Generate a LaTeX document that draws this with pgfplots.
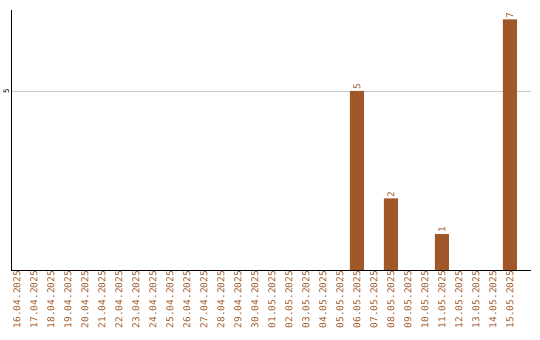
\documentclass[border=0pt]{standalone}
\usepackage{pgfplots}
\pgfplotsset{compat=1.18}
\usepackage{fontspec}
\newfontfamily\monofont{DejaVu Sans Mono}
\definecolor{barbrown}{RGB}{160,88,40}
\definecolor{gridgray}{RGB}{200,200,200}
\begin{document}
\begin{tikzpicture}
\path[use as bounding box] (0,0) rectangle (540bp,340bp);
\begin{axis}[
  at={(11bp,70bp)}, anchor=south west,
  scale only axis,
  width=520bp, height=260bp,
  xmin=-0.35, xmax=30.24,
  ymin=0, ymax=7.26,
  axis x line*=bottom, axis y line*=left,
  axis line style={-, black, line width=1pt},
  /pgf/number format/assume math mode=true,
  xtick={0,...,29},
  xticklabels={16.04.2025,17.04.2025,18.04.2025,19.04.2025,20.04.2025,21.04.2025,22.04.2025,23.04.2025,24.04.2025,25.04.2025,26.04.2025,27.04.2025,28.04.2025,29.04.2025,30.04.2025,01.05.2025,02.05.2025,03.05.2025,04.05.2025,05.05.2025,06.05.2025,07.05.2025,08.05.2025,09.05.2025,10.05.2025,11.05.2025,12.05.2025,13.05.2025,14.05.2025,15.05.2025},
  xticklabel style={rotate=90, anchor=east, font=\monofont\fontsize{9.5}{10}\selectfont, text=barbrown, inner sep=1pt},
  ytick={5},
  yticklabel style={rotate=90, anchor=south, font=\monofont\fontsize{7.5}{9}\selectfont, text=black, inner sep=1.5pt},
  ymajorgrids,
  grid style={gridgray, line width=0.8pt},
  major tick length=0pt,
  tick style={draw=none},
  ybar, bar width=14bp,
  nodes near coords={\pgfmathprintnumber[assume math mode=true]{\pgfplotspointmeta}},
  nodes near coords style={rotate=90, anchor=west, font=\monofont\fontsize{9.5}{10}\selectfont, text=barbrown, inner sep=1pt},
]
\addplot[fill=barbrown, draw=none] coordinates {(20,5) (22,2) (25,1) (29,7)};
\end{axis}
\end{tikzpicture}
\end{document}
